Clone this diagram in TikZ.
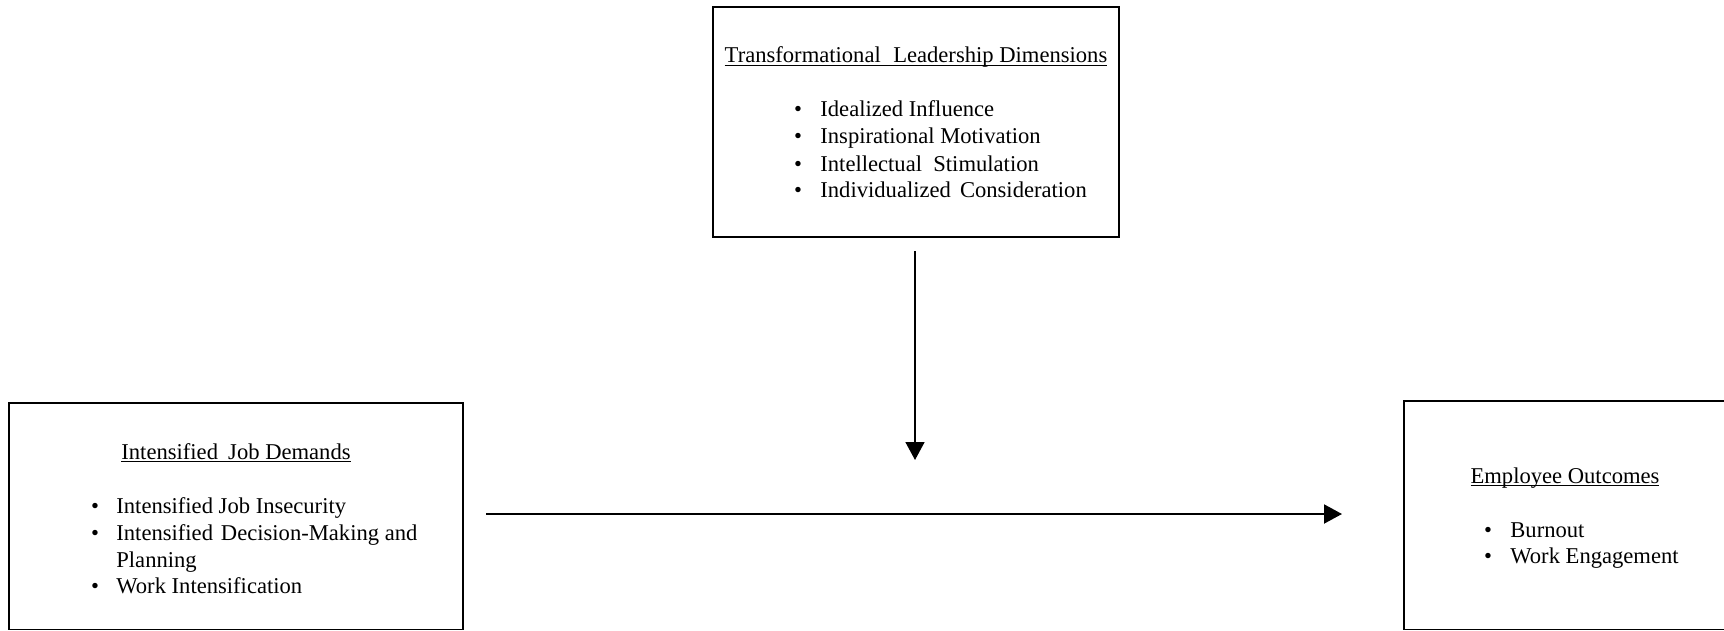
\documentclass[tikz,border=0pt]{standalone}
\usepackage{fontspec}
\setmainfont{Liberation Serif}
\usetikzlibrary{arrows.meta}
\newcommand\myul[1]{\setbox0\hbox{#1}\rlap{\rule[-1.3pt]{\wd0}{0.5pt}}\box0}
\begin{document}
\begin{tikzpicture}[x=0.5pt,y=-0.5pt,
  boxline/.style={draw=black,line width=0.75pt},
  txt/.style={inner sep=0pt,font=\fontsize{11.3}{13.5}\selectfont},
  ttl/.style={txt,anchor=base},
  bul/.style={txt,anchor=base},
  itm/.style={txt,anchor=base west},
  conn/.style={line width=1pt,-{Triangle[length=9pt,width=9.5pt]}}]
\useasboundingbox (0,0) rectangle (1724,631);
\clip (0,0) rectangle (1724,631);
% boxes
\draw[boxline] (713,7) rectangle (1119,237);
\node[inner sep=0pt] (top) at (916,122) {};
\draw[boxline] (9,403) rectangle (463,629.5);
\node[inner sep=0pt] (left) at (236,516) {};
\draw[boxline] (1404,401) rectangle (1740,629.5);
\node[inner sep=0pt] (right) at (1565,515) {};
% top text
\node[ttl] (t0) at (916,63) {\myul{Transformational\hspace{0.3em} Leadership Dimensions}};
\node[bul] (tb1) at (798,117) {•};
\node[itm] (t1) at (820,117) {Idealized Influence};
\node[bul] (tb2) at (798,144) {•};
\node[itm] (t2) at (820,144) {Inspirational Motivation};
\node[bul] (tb3) at (798,171) {•};
\node[itm] (t3) at (820,171) {Intellectual\ \ Stimulation};
\node[bul] (tb4) at (798,198) {•};
\node[itm] (t4) at (820,198) {Individualized\hspace{0.15em} Consideration};
% left text
\node[ttl] (l0) at (236,459) {\myul{Intensified\hspace{0.2em} Job Demands}};
\node[bul] (lb1) at (95,513) {•};
\node[itm] (l1) at (116,513) {Intensified Job Insecurity};
\node[bul] (lb2) at (95,540) {•};
\node[itm] (l2) at (116,540) {Intensified\hspace{0.1em} Decision-Making and};
\node[itm] (l3) at (116,567) {Planning};
\node[bul] (lb4) at (95,593) {•};
\node[itm] (l4) at (116,593) {Work Intensification};
% right text
\node[ttl] (r0) at (1565,483) {\myul{Employee Outcomes}};
\node[bul] (rb1) at (1488,537) {•};
\node[itm] (r1) at (1510,537) {Burnout};
\node[bul] (rb2) at (1488,563) {•};
\node[itm] (r2) at (1510,563) {Work Engagement};
% connectors
\coordinate (vs) at (915,251);
\coordinate (ve) at (915,460);
\coordinate (hs) at (486,514);
\coordinate (he) at (1342,514);
\draw[conn,line width=0.8pt] (vs) -- (ve);
\draw[conn] (hs) -- (he);
\end{tikzpicture}
\end{document}
